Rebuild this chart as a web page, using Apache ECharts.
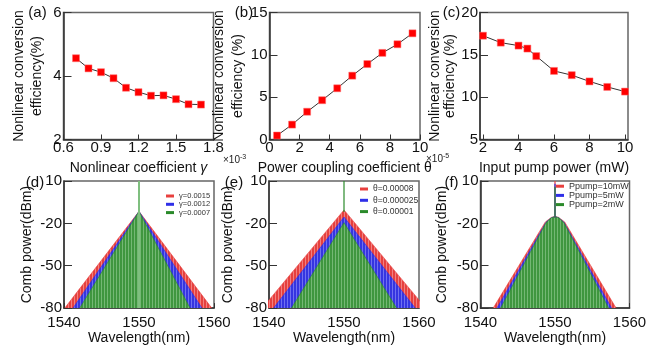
<!DOCTYPE html>
<html>
<head>
<meta charset="utf-8">
<script src="https://cdn.jsdelivr.net/npm/echarts@6.0.0/dist/echarts.min.js"></script>
<style>
  html, body { margin: 0; padding: 0; background: #fff; }
  #chart { width: 664px; height: 346px; }
</style>
</head>
<body>
<div id="chart"></div>
<script>
const FONT = '"Liberation Sans", Arial, sans-serif';

// (a) efficiency vs nonlinear coefficient (x1e-3)
const gammaX = [0.7, 0.8, 0.9, 1.0, 1.1, 1.2, 1.3, 1.4, 1.5, 1.6, 1.7];
const gammaEff = [4.56, 4.24, 4.12, 3.93, 3.63, 3.49, 3.38, 3.39, 3.27, 3.11, 3.10];

// (b) efficiency vs power coupling coefficient (x1e-5)
const thetaX = [0.5, 1.5, 2.5, 3.5, 4.5, 5.5, 6.5, 7.5, 8.5, 9.5];
const thetaEff = [0.47, 1.76, 3.28, 4.64, 6.05, 7.54, 8.91, 10.23, 11.25, 12.54];

// (c) efficiency vs input pump power (mW)
const pumpX = [2, 3, 4, 4.5, 5, 6, 7, 8, 9, 10];
const pumpEff = [17.26, 16.44, 16.09, 15.74, 14.85, 13.10, 12.60, 11.86, 11.21, 10.66];

// (d)-(f) comb envelopes, [wavelength nm, power dBm]
const combD = {
  'γ=0.0015': [[1540.1, -80], [1550, -11.5], [1559.7, -80]],
  'γ=0.0012': [[1541.2, -80], [1550, -11.5], [1558.4, -80]],
  'γ=0.0007': [[1542.1, -80], [1550, -11.5], [1556.8, -80]]
};
const combE = {
  'θ=0.00008': [[1539.1, -80], [1550, -10.5], [1560.9, -80]],
  'θ=0.000025': [[1540.6, -80], [1550, -15.5], [1559.5, -80]],
  'θ=0.00001': [[1543.0, -80], [1550, -19.5], [1557.0, -80]]
};
const combF = {
  'Ppump=10mW': [[1541.7, -80], [1548.7, -19], [1549.5, -15.8], [1550, -15], [1550.5, -15.8], [1551.3, -19], [1558.2, -80]],
  'Ppump=5mW': [[1542.2, -80], [1548.8, -19.2], [1549.5, -16], [1550, -15.2], [1550.5, -16], [1551.2, -19.2], [1557.6, -80]],
  'Ppump=2mW': [[1542.7, -80], [1548.8, -19.5], [1549.5, -16.1], [1550, -15.3], [1550.5, -16.1], [1551.2, -19.5], [1557.2, -80]]
};
// pump lines at the centre wavelength
const pumpLineD = [[1550, -80], [1550, 10]];
const pumpLineE = [[1550, -12], [1550, 10]];
const pumpLineF = [[[1550, -16], [1550, 10]], [[1550, -16], [1550, 8]], [[1550, -16], [1550, 6]]];

const combColors = [
  { solid: '#e8403e', base: '#e6403e', light: '#f28080' },
  { solid: '#2f2fe8', base: '#3535e0', light: '#7070f0' },
  { solid: '#2a8a2a', base: '#3f963f', light: '#74b874' }
];

function stripe(base, light) {
  const c = document.createElement('canvas');
  c.width = 3; c.height = 8;
  const ctx = c.getContext('2d');
  ctx.fillStyle = base; ctx.fillRect(0, 0, 3, 8);
  ctx.fillStyle = light; ctx.fillRect(2, 0, 1, 8);
  return c;
}

const chart = echarts.init(document.getElementById('chart'));

const grids = [
  { left: 63.5, top: 12.5, width: 150, height: 127 },
  { left: 269.5, top: 12.5, width: 150.5, height: 127 },
  { left: 480, top: 12.5, width: 148, height: 127 },
  { left: 64, top: 181, width: 150, height: 128 },
  { left: 269, top: 181, width: 150, height: 128 },
  { left: 480.5, top: 181, width: 149, height: 128 }
].map(g => Object.assign(g, { show: true, borderColor: '#666', borderWidth: 1.5 }));

const nameStyle = { fontFamily: FONT, fontSize: 14, color: '#111' };
const tickText = { fontFamily: FONT, fontSize: 15, color: '#111' };

function xAx(i, min, max, interval, name, gap, label) {
  return {
    type: 'value', gridIndex: i, min, max, interval,
    name, nameLocation: 'middle', nameGap: gap,
    nameTextStyle: Object.assign({}, nameStyle, {
      rich: { g: { fontFamily: FONT, fontSize: 14, fontStyle: 'italic', color: '#111' } }
    }),
    axisLine: { show: true, onZero: false, lineStyle: { color: '#333', width: 1.5 } },
    axisTick: { inside: true, length: 5, lineStyle: { color: '#333' } },
    axisLabel: Object.assign({ margin: i < 3 ? 1 : 7 }, tickText, label || {}),
    splitLine: { show: false }
  };
}

function yAx(i, min, max, interval, name, gap, lh) {
  return {
    type: 'value', gridIndex: i, min, max, interval,
    name, nameLocation: 'middle', nameGap: gap, nameRotate: 90,
    nameTextStyle: Object.assign({}, nameStyle, { lineHeight: lh || 16 }),
    axisLine: { show: true, onZero: false, lineStyle: { color: '#333', width: 1.5 } },
    axisTick: { inside: true, length: 8, lineStyle: { color: '#333' } },
    axisLabel: Object.assign({ margin: 2 }, tickText),
    splitLine: { show: false }
  };
}

const plain = { formatter: v => String(v) };

const xAxis = [
  xAx(0, 0.6, 1.8, 0.3, 'Nonlinear coefficient {g|γ}', 22, { formatter: v => v.toFixed(1) }),
  xAx(1, 0, 10, 2, 'Power coupling coefficient θ', 22),
  xAx(2, 1.83, 10.17, undefined, 'Input pump power (mW)', 22, { showMinLabel: false, showMaxLabel: false }),
  xAx(3, 1540, 1560, 10, 'Wavelength(nm)', 22, plain),
  xAx(4, 1540, 1560, 10, 'Wavelength(nm)', 22, plain),
  xAx(5, 1540, 1560, 10, 'Wavelength(nm)', 22, plain)
];

const yAxis = [
  yAx(0, 2, 6, 2, 'Nonlinear conversion\nefficiency(%)', 17, 18.5),
  yAx(1, 0, 15, 5, 'Nonlinear conversion\nefficiency (%)', 17, 18.5),
  yAx(2, 5, 20, 5, 'Nonlinear conversion\nefficiency (%)', 20, 15),
  yAx(3, -80, 10, 30, 'Comb power(dBm)', 29),
  yAx(4, -80, 10, 30, 'Comb power(dBm)', 33),
  yAx(5, -80, 10, 30, 'Comb power(dBm)', 30)
];

function pointSeries(i, xs, ys) {
  return {
    type: 'line', xAxisIndex: i, yAxisIndex: i,
    data: xs.map((x, k) => [x, ys[k]]),
    symbol: 'rect', symbolSize: 7,
    itemStyle: { color: '#ff0000', borderColor: '#ff7070', borderWidth: 0.5 },
    lineStyle: { color: '#333', width: 1 }
  };
}

function combSeries(i, envelopes) {
  return Object.keys(envelopes).map((name, k) => {
    const c = combColors[k];
    return {
      name, type: 'line', xAxisIndex: i, yAxisIndex: i,
      data: envelopes[name], symbol: 'none',
      lineStyle: { width: 0.6, color: c.solid },
      itemStyle: { color: c.solid },
      areaStyle: { origin: 'start', opacity: 1, color: { image: stripe(c.base, c.light), repeat: 'repeat' } },
      z: 2 + k
    };
  });
}

function lineSeries(i, data, color, width) {
  return {
    type: 'line', xAxisIndex: i, yAxisIndex: i, data, symbol: 'none',
    lineStyle: { color, width }, z: 6
  };
}

const series = [
  pointSeries(0, gammaX, gammaEff),
  pointSeries(1, thetaX, thetaEff),
  pointSeries(2, pumpX, pumpEff),
  ...combSeries(3, combD),
  lineSeries(3, pumpLineD, '#7fbf7f', 2),
  ...combSeries(4, combE),
  lineSeries(4, pumpLineE, '#2a8a2a', 1.2),
  ...combSeries(5, combF),
  lineSeries(5, pumpLineF[0], '#e8403e', 1.2),
  lineSeries(5, pumpLineF[1], '#2f2fe8', 1.2),
  lineSeries(5, pumpLineF[2], '#2a8a2a', 1.2)
];

function legend(names, left, top, fontSize, lh, gap) {
  return {
    orient: 'vertical', left, top, padding: 0, itemGap: gap,
    itemWidth: 8, itemHeight: 3, icon: 'rect',
    data: names.map((n, k) => ({ name: n, itemStyle: { color: combColors[k].solid } })),
    textStyle: { fontFamily: FONT, fontSize, lineHeight: lh, color: '#333' },
    selectedMode: false
  };
}

function label(text, x, y) {
  return { type: 'text', x, y, style: { text, fontFamily: FONT, fontSize: 15, fill: '#111', align: 'center', verticalAlign: 'middle' } };
}

function mult(exp, x, y) {
  return {
    type: 'text', x, y,
    style: {
      text: '{m|×10}{s|' + exp + '}', align: 'left', verticalAlign: 'middle',
      rich: {
        m: { fontFamily: FONT, fontSize: 10, lineHeight: 12, fill: '#222' },
        s: { fontFamily: FONT, fontSize: 7, verticalAlign: 'top', fill: '#222' }
      }
    }
  };
}

chart.setOption({
  animation: false,
  textStyle: { fontFamily: FONT },
  grid: grids,
  xAxis,
  yAxis,
  legend: [
    legend(Object.keys(combD), 166, 192, 7.5, 8, 0.3),
    legend(Object.keys(combE), 360, 184.5, 8.5, 9, 2.3),
    legend(Object.keys(combF), 556, 181.7, 9, 8, 0.2)
  ],
  graphic: [
    label('(a)', 37.5, 13), label('(b)', 244, 13), label('(c)', 451.5, 13),
    label('(d)', 35, 183), label('(e)', 234, 183), label('(f)', 451.5, 183),
    mult('-3', 223, 160), mult('-5', 426, 159)
  ],
  series
});
</script>
</body>
</html>
